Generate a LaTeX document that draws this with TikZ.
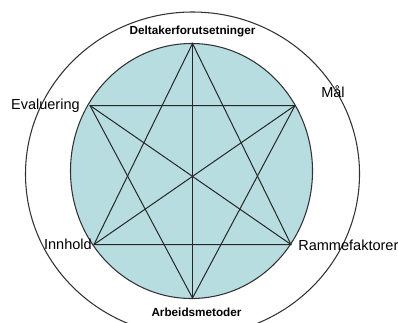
\documentclass[tikz,border=0pt]{standalone}
\usepackage{fontspec}
\setmainfont{Liberation Sans}
\usetikzlibrary{positioning}
\definecolor{discfill}{HTML}{B7DDE0}

\begin{document}
\begin{tikzpicture}[x=0.75pt, y=-0.75pt,
    bigLabel/.style={font=\fontsize{10.9}{12}\selectfont, inner sep=0pt},
    smallLabel/.style={font=\fontsize{8.8}{10}\selectfont\bfseries, inner sep=0pt},
    starLine/.style={black!85, line width=0.75pt}]
\useasboundingbox (0,0) rectangle (398,322);
% Outer ring
\draw[black!80, line width=0.8pt] (192.5,174) ellipse [x radius=167, y radius=162];
% Inner disc
\filldraw[fill=discfill, draw=black!80, line width=0.8pt]
    (191.5,171) ellipse [x radius=121, y radius=127.5];
% Star corners
\coordinate (deltaker)   at (192.5,43.5);
\coordinate (maal)       at (295,105.5);
\coordinate (ramme)      at (291,244.5);
\coordinate (arbeid)     at (192.5,298);
\coordinate (innhold)    at (94,244.5);
\coordinate (evaluering) at (90,105.5);
% Two triangles
\draw[starLine] (deltaker) -- (innhold) -- (ramme) -- cycle;
\draw[starLine] (evaluering) -- (maal) -- (arbeid) -- cycle;
% Lines through the centre
\foreach \a/\b in {deltaker/arbeid, evaluering/ramme, maal/innhold}{
    \draw[starLine] (\a) -- (\b);
}
% Labels
\node[smallLabel] (lblDeltaker) at (192.5,31) {Deltakerforutsetninger};
\node[smallLabel] (lblArbeid) at (196.5,312.5) {Arbeidsmetoder};
\node[bigLabel, anchor=mid east] (lblEvaluering) at (80,106) {Evaluering};
\node[bigLabel, anchor=mid] (lblMaal) at (333,94) {Mål};
\node[bigLabel, anchor=mid east] (lblInnhold) at (92,246) {Innhold};
\node[bigLabel, anchor=mid west] (lblRamme) at (298,247) {Rammefaktorer};
\end{tikzpicture}
\end{document}
